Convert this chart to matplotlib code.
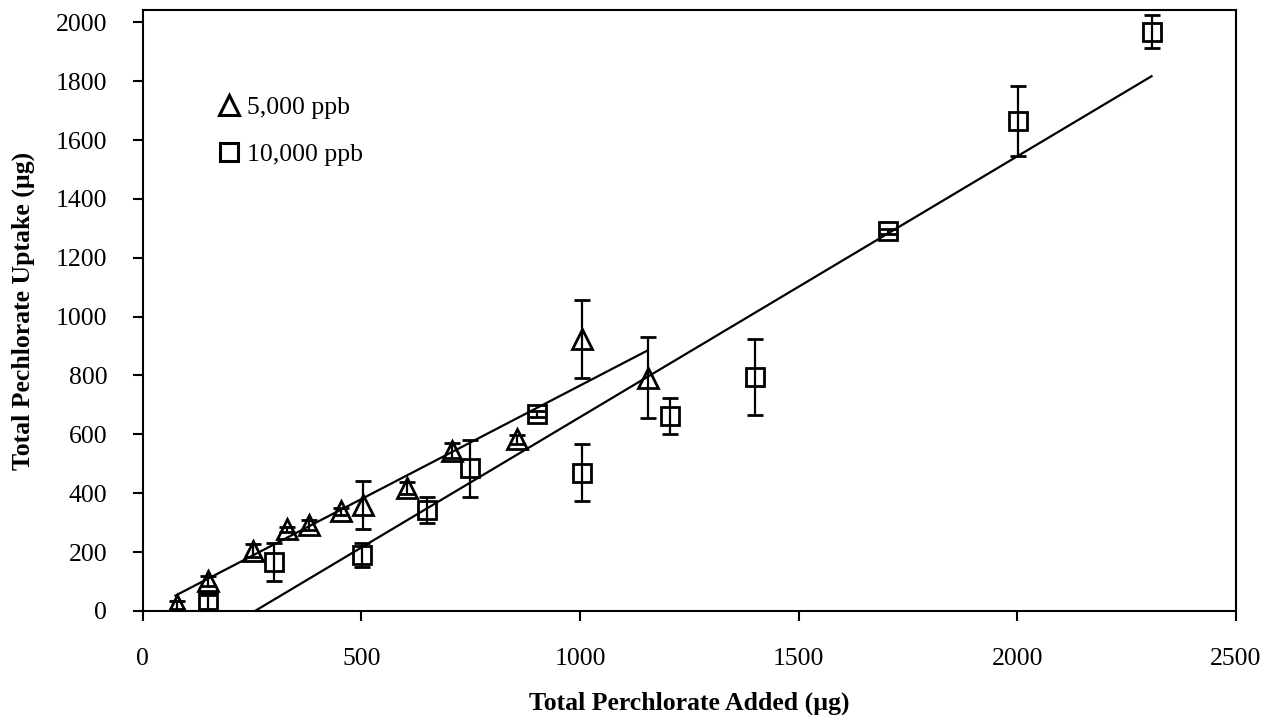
import matplotlib
matplotlib.use('Agg')
import matplotlib.pyplot as plt
from matplotlib.lines import Line2D

plt.rcParams['font.family'] = ['Liberation Serif', 'DejaVu Serif']

# 5,000 ppb series
x_5000 = [78, 150, 252, 330, 381, 454, 504, 605, 708, 857, 1005, 1155]
y_5000 = [20, 102, 205, 277, 292, 338, 360, 418, 545, 583, 925, 793]
err_5000 = [15, 18, 22, 8, 18, 12, 80, 20, 25, 15, 132, 139]

# 10,000 ppb series
x_10000 = [150, 301, 502, 651, 749, 901, 1004, 1205, 1400, 1704, 2002, 2307]
y_10000 = [30, 166, 190, 342, 485, 668, 470, 662, 795, 1290, 1665, 1968]
err_10000 = [25, 64, 42, 44, 97, 10, 98, 60, 128, 8, 120, 56]

# trend lines (end points)
trend_5000_x = [75, 1152]
trend_5000_y = [52, 883]
trend_10000_x = [150, 2307]
trend_10000_y = [-95, 1817]

fig = plt.figure(figsize=(12.68, 7.27), dpi=100)
ax = fig.add_axes([0.1125, 0.1597, 0.8622, 0.8265])

lw = 1.6
ax.errorbar(x_5000, y_5000, yerr=err_5000, fmt='^', ms=15, mfc='none', mec='black',
            mew=2.0, ecolor='black', elinewidth=lw, capsize=5.5, capthick=lw)
ax.errorbar(x_10000, y_10000, yerr=err_10000, fmt='s', ms=13.5, mfc='none', mec='black',
            mew=2.0, ecolor='black', elinewidth=lw, capsize=5.5, capthick=lw)
ax.plot(trend_5000_x, trend_5000_y, color='black', lw=lw)
ax.plot(trend_10000_x, trend_10000_y, color='black', lw=lw)

ax.set_xlim(0, 2500)
ax.set_ylim(0, 2042)
ax.set_xticks(range(0, 2501, 500))
ax.set_yticks(range(0, 2001, 200))

for s in ax.spines.values():
    s.set_linewidth(1.5)
ax.tick_params(direction='out', length=7.5, width=1.5, labelsize=18.5)
ax.tick_params(axis='x', pad=19)
ax.tick_params(axis='y', pad=18)

ax.set_xlabel('Total Perchlorate Added (µg)', fontsize=18.5, fontweight='bold', labelpad=16)
ax.set_ylabel('Total Pechlorate Uptake (µg)', fontsize=18.5, fontweight='bold', labelpad=15)

handles = [
    Line2D([], [], marker='^', ls='none', ms=14, mfc='none', mec='black', mew=2.2),
    Line2D([], [], marker='s', ls='none', ms=12.5, mfc='none', mec='black', mew=2.2),
]
ax.legend(handles, ['5,000 ppb', '10,000 ppb'], loc='upper left', bbox_to_anchor=(0.048, 0.896),
          frameon=False, fontsize=18.5, handlelength=0.8, handletextpad=0.3, labelspacing=0.95)

fig.savefig('out.png', dpi=100)
